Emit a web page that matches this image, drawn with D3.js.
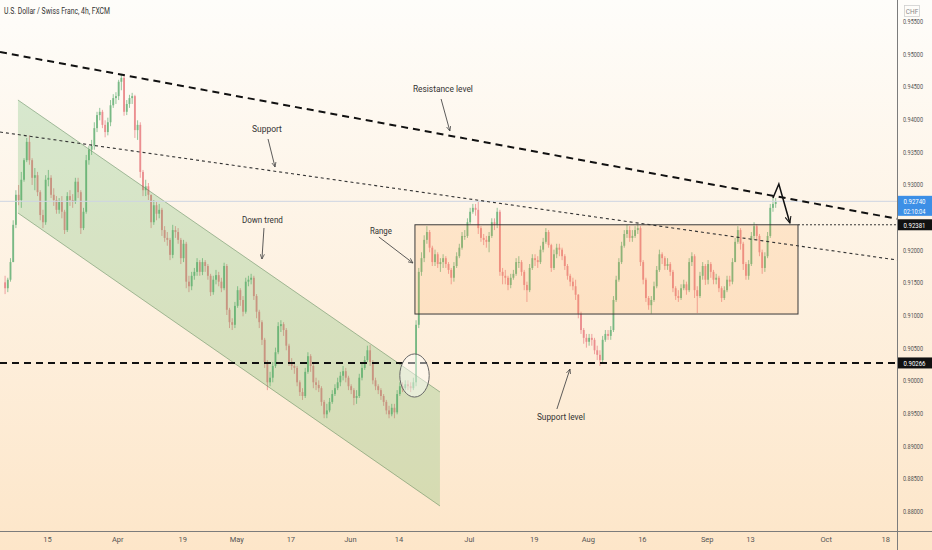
<!DOCTYPE html>
<html lang="en">
<head>
  <meta charset="UTF-8">
  <title>U.S. Dollar / Swiss Franc, 4h, FXCM</title>
  <script src="https://d3js.org/d3.v7.min.js"></script>
  <style>
    body { margin: 0; }
    svg { display: block; font-family: Roboto, "Liberation Sans", sans-serif; }
  </style>
</head>
<body>
  <svg width="932" height="550"></svg>

  <script>
    // price bars (two per trading day)
    const firstBar = "2021-03-03";
    const firstOpen = 0.9150;
    const closes = [
      0.9141,0.9154,0.9181,0.9238,0.9284,0.9276,0.9307,0.9337,0.9365,0.9337,
      0.9310,0.9314,0.9288,0.9253,0.9242,0.9307,0.9310,0.9284,0.9276,0.9261,
      0.9273,0.9258,0.9230,0.9282,0.9276,0.9273,0.9304,0.9288,0.9233,0.9258,
      0.9337,0.9353,0.9359,0.9386,0.9406,0.9411,0.9391,0.9380,0.9395,0.9421,
      0.9432,0.9435,0.9457,0.9463,0.9411,0.9423,0.9432,0.9435,0.9383,0.9391,
      0.9319,0.9291,0.9297,0.9284,0.9242,0.9268,0.9255,0.9261,0.9230,0.9218,
      0.9215,0.9192,0.9230,0.9227,0.9215,0.9187,0.9209,0.9151,0.9144,0.9160,
      0.9166,0.9181,0.9166,0.9181,0.9175,0.9160,0.9135,0.9154,0.9161,0.9151,
      0.9141,0.9175,0.9108,0.9089,0.9085,0.9114,0.9138,0.9123,0.9105,0.9151,
      0.9154,0.9157,0.9129,0.9105,0.9089,0.9062,0.9028,0.8997,0.9004,0.9022,
      0.9043,0.9083,0.9086,0.9077,0.9053,0.9028,0.9022,0.9019,0.8997,0.8982,
      0.8976,0.9013,0.9037,0.9022,0.8997,0.8993,0.8988,0.8967,0.8948,0.8954,
      0.8967,0.8979,0.8988,0.8997,0.9007,0.9014,0.9004,0.8991,0.8985,0.8973,
      0.8976,0.9004,0.9019,0.9031,0.9046,0.9028,0.9000,0.8991,0.8985,0.8976,
      0.8967,0.8954,0.8948,0.8958,0.8951,0.8979,0.8991,0.8988,0.8994,0.8991,
      0.8988,0.8997,0.9085,0.9166,0.9187,0.9215,0.9227,0.9203,0.9181,0.9193,
      0.9178,0.9181,0.9187,0.9178,0.9169,0.9157,0.9175,0.9190,0.9203,0.9221,
      0.9221,0.9242,0.9258,0.9264,0.9261,0.9233,0.9218,0.9215,0.9212,0.9221,
      0.9242,0.9238,0.9258,0.9166,0.9160,0.9157,0.9146,0.9157,0.9163,0.9181,
      0.9181,0.9166,0.9146,0.9138,0.9172,0.9187,0.9184,0.9181,0.9200,0.9212,
      0.9227,0.9207,0.9172,0.9193,0.9203,0.9200,0.9190,0.9175,0.9160,0.9151,
      0.9144,0.9131,0.9102,0.9077,0.9065,0.9059,0.9065,0.9062,0.9046,0.9039,
      0.9031,0.9062,0.9071,0.9068,0.9077,0.9123,0.9154,0.9181,0.9206,0.9224,
      0.9230,0.9218,0.9221,0.9230,0.9233,0.9181,0.9154,0.9126,0.9115,0.9123,
      0.9144,0.9169,0.9193,0.9187,0.9175,0.9178,0.9166,0.9141,0.9129,0.9126,
      0.9141,0.9147,0.9138,0.9181,0.9190,0.9138,0.9129,0.9160,0.9175,0.9154,
      0.9178,0.9166,0.9154,0.9157,0.9141,0.9126,0.9138,0.9154,0.9151,0.9181,
      0.9212,0.9230,0.9209,0.9178,0.9160,0.9178,0.9221,0.9236,0.9221,0.9196,
      0.9172,0.9190,0.9221,0.9264,0.9270,0.9274
    ];
    const highs = [
      0.9160,0.9157,0.9187,0.9245,0.9291,0.9299,0.9319,0.9340,0.9371,0.9375,
      0.9340,0.9325,0.9319,0.9291,0.9261,0.9314,0.9322,0.9314,0.9294,0.9282,
      0.9279,0.9282,0.9261,0.9288,0.9291,0.9285,0.9310,0.9310,0.9291,0.9264,
      0.9345,0.9359,0.9368,0.9395,0.9411,0.9417,0.9414,0.9398,0.9402,0.9429,
      0.9438,0.9441,0.9460,0.9469,0.9466,0.9429,0.9437,0.9440,0.9437,0.9398,
      0.9395,0.9322,0.9307,0.9302,0.9284,0.9276,0.9273,0.9270,0.9264,0.9236,
      0.9227,0.9218,0.9238,0.9236,0.9233,0.9218,0.9215,0.9212,0.9160,0.9166,
      0.9172,0.9187,0.9184,0.9187,0.9184,0.9178,0.9163,0.9160,0.9169,0.9166,
      0.9157,0.9180,0.9178,0.9111,0.9095,0.9120,0.9144,0.9141,0.9129,0.9157,
      0.9160,0.9163,0.9160,0.9132,0.9108,0.9092,0.9065,0.9031,0.9013,0.9028,
      0.9050,0.9089,0.9092,0.9089,0.9080,0.9056,0.9034,0.9028,0.9022,0.9000,
      0.8988,0.9019,0.9043,0.9040,0.9025,0.9004,0.9000,0.8991,0.8970,0.8964,
      0.8973,0.8985,0.8994,0.9004,0.9013,0.9022,0.9019,0.9007,0.8994,0.8988,
      0.8985,0.9010,0.9025,0.9037,0.9053,0.9054,0.9031,0.9004,0.8994,0.8988,
      0.8979,0.8970,0.8961,0.8964,0.8964,0.8985,0.8997,0.8997,0.9000,0.9000,
      0.8997,0.9004,0.9092,0.9172,0.9196,0.9222,0.9236,0.9230,0.9206,0.9200,
      0.9196,0.9187,0.9193,0.9190,0.9181,0.9172,0.9181,0.9196,0.9209,0.9227,
      0.9230,0.9248,0.9264,0.9270,0.9270,0.9274,0.9236,0.9224,0.9221,0.9227,
      0.9248,0.9248,0.9264,0.9261,0.9172,0.9169,0.9160,0.9163,0.9169,0.9187,
      0.9190,0.9184,0.9169,0.9151,0.9178,0.9193,0.9193,0.9190,0.9206,0.9218,
      0.9233,0.9230,0.9209,0.9200,0.9209,0.9209,0.9203,0.9193,0.9178,0.9163,
      0.9157,0.9154,0.9132,0.9105,0.9080,0.9071,0.9071,0.9071,0.9065,0.9053,
      0.9046,0.9068,0.9077,0.9077,0.9083,0.9129,0.9160,0.9187,0.9212,0.9230,
      0.9238,0.9236,0.9230,0.9236,0.9239,0.9236,0.9184,0.9157,0.9129,0.9129,
      0.9151,0.9175,0.9200,0.9196,0.9190,0.9187,0.9181,0.9169,0.9144,0.9138,
      0.9147,0.9154,0.9151,0.9187,0.9196,0.9193,0.9144,0.9166,0.9181,0.9178,
      0.9184,0.9181,0.9169,0.9163,0.9160,0.9144,0.9144,0.9160,0.9160,0.9187,
      0.9218,0.9236,0.9233,0.9212,0.9181,0.9184,0.9227,0.9242,0.9239,0.9224,
      0.9200,0.9196,0.9227,0.9270,0.9281,0.9279
    ];
    const lows = [
      0.9132,0.9135,0.9151,0.9181,0.9233,0.9268,0.9264,0.9304,0.9334,0.9330,
      0.9299,0.9291,0.9282,0.9245,0.9233,0.9238,0.9297,0.9279,0.9267,0.9255,
      0.9255,0.9248,0.9224,0.9227,0.9267,0.9264,0.9270,0.9279,0.9224,0.9230,
      0.9255,0.9330,0.9345,0.9353,0.9380,0.9398,0.9386,0.9372,0.9375,0.9389,
      0.9417,0.9423,0.9429,0.9444,0.9405,0.9406,0.9417,0.9423,0.9371,0.9368,
      0.9310,0.9282,0.9282,0.9276,0.9233,0.9238,0.9245,0.9248,0.9221,0.9212,
      0.9206,0.9184,0.9187,0.9218,0.9209,0.9178,0.9181,0.9141,0.9135,0.9138,
      0.9154,0.9160,0.9160,0.9161,0.9166,0.9154,0.9129,0.9131,0.9147,0.9144,
      0.9135,0.9138,0.9100,0.9080,0.9077,0.9080,0.9111,0.9114,0.9098,0.9102,
      0.9144,0.9147,0.9123,0.9095,0.9080,0.9054,0.9019,0.8985,0.8991,0.8997,
      0.9019,0.9040,0.9074,0.9068,0.9046,0.9022,0.9016,0.9010,0.8991,0.8976,
      0.8970,0.8973,0.9010,0.9013,0.8988,0.8985,0.8982,0.8961,0.8942,0.8942,
      0.8951,0.8964,0.8976,0.8985,0.8991,0.9000,0.8997,0.8985,0.8979,0.8962,
      0.8964,0.8973,0.9000,0.9016,0.9028,0.9022,0.8994,0.8985,0.8979,0.8970,
      0.8961,0.8948,0.8942,0.8945,0.8942,0.8948,0.8976,0.8982,0.8985,0.8985,
      0.8982,0.8985,0.8991,0.9080,0.9160,0.9181,0.9209,0.9196,0.9175,0.9175,
      0.9172,0.9166,0.9172,0.9172,0.9163,0.9147,0.9151,0.9172,0.9187,0.9200,
      0.9215,0.9218,0.9239,0.9255,0.9252,0.9224,0.9212,0.9207,0.9203,0.9196,
      0.9218,0.9230,0.9233,0.9160,0.9147,0.9147,0.9138,0.9141,0.9154,0.9160,
      0.9172,0.9160,0.9138,0.9120,0.9135,0.9169,0.9175,0.9172,0.9178,0.9196,
      0.9209,0.9203,0.9166,0.9169,0.9187,0.9190,0.9184,0.9169,0.9154,0.9144,
      0.9138,0.9123,0.9095,0.9071,0.9056,0.9050,0.9053,0.9053,0.9040,0.9031,
      0.9022,0.9025,0.9059,0.9062,0.9062,0.9074,0.9120,0.9151,0.9178,0.9203,
      0.9218,0.9212,0.9212,0.9218,0.9224,0.9175,0.9147,0.9120,0.9108,0.9102,
      0.9120,0.9141,0.9166,0.9178,0.9169,0.9169,0.9160,0.9135,0.9123,0.9120,
      0.9123,0.9138,0.9131,0.9135,0.9175,0.9126,0.9103,0.9126,0.9154,0.9146,
      0.9147,0.9157,0.9147,0.9147,0.9135,0.9120,0.9123,0.9135,0.9144,0.9147,
      0.9181,0.9209,0.9200,0.9169,0.9154,0.9154,0.9175,0.9215,0.9215,0.9190,
      0.9163,0.9166,0.9187,0.9218,0.9258,0.9264
    ];

    // axis ticks
    const priceTicks = [0.955,0.95,0.945,0.94,0.935,0.93,0.92,0.915,0.91,0.905,0.90,0.895,0.89,0.885,0.88];
    const timeTicks = ["2021-03-15","2021-04-01","2021-04-19","2021-05-03","2021-05-17","2021-06-01","2021-06-14",
                       "2021-07-01","2021-07-19","2021-08-02","2021-08-16","2021-09-01","2021-09-13","2021-10-01","2021-10-18"];
    const timeLabels = ["15","Apr","19","May","17","Jun","14","Jul","19","Aug","16","Sep","13","Oct","18"];

    // price levels shown on the scale
    const lastPrice = 0.92740;
    const countdown = "02:10:04";
    const supportPrice = 0.90266;
    const rangeTop = 0.92381;
    const rangeBottom = 0.91015;

    // drawings: [time, price]
    const resistancePts = [["2021-04-01", 0.94691], ["2021-09-17", 0.92829]];
    const supportPts = [["2021-03-15", 0.93698], ["2021-09-13", 0.92163]];
    const channelLeft = ["2021-03-05T15:00", 0.94291, 0.92561];
    const channelRight = ["2021-06-23T16:00", 0.89822, 0.88077];
    const rangeTimes = ["2021-06-17T01:00", "2021-09-23T21:00"];
    const circle = ["2021-06-16T23:00", 0.90074, 2.72, 0.0033];
    const zigzag = [["2021-09-17T06:00", 0.92791], ["2021-09-20T08:00", 0.93005], ["2021-09-22T09:00", 0.92408]];
    const notes = [
      { text: "Resistance level", at: ["2021-06-24T05:00", 0.94459], w: 60, from: ["2021-06-23T21:00", 0.94306], to: ["2021-06-25T12:00", 0.93816] },
      { text: "Support", at: ["2021-05-10T16:00", 0.93847], w: 30, from: ["2021-05-10T21:00", 0.93694], to: ["2021-05-12T04:00", 0.93265] },
      { text: "Down trend", at: ["2021-05-07T20:00", 0.92454], w: 41, from: ["2021-05-10T03:00", 0.92331], to: ["2021-05-07T18:00", 0.91857] },
      { text: "Range", at: ["2021-06-08T18:00", 0.92286], w: 22, from: ["2021-06-08T09:00", 0.92194], to: ["2021-06-16T16:00", 0.91796] },
      { text: "Support level", at: ["2021-07-26T01:00", 0.89439], w: 48, from: ["2021-07-23T07:00", 0.89561], to: ["2021-07-27T17:00", 0.90173] }
    ];

    // trading-day index (weekends skipped), day 0 = 2021-03-15
    const base = new Date("2021-03-15T00:00:00Z");
    function tIndex(s) {
      const d = new Date(s.length > 10 ? s + ":00Z" : s + "T00:00:00Z");
      const days = (d - base) / 864e5;
      const w = Math.floor(days / 7), r = days - w * 7;
      return w * 5 + Math.min(r, 5);
    }

    const svg = d3.select("svg");
    const width = 932, height = 550;
    const plotW = 897, plotH = 531;

    const x = d3.scaleLinear().domain([tIndex("2021-03-15"), tIndex("2021-09-13")]).range([47, 750]);
    const y = d3.scaleLinear().domain([0.88, 0.955]).range([511, 21]);

    const defs = svg.append("defs");
    const grad = defs.append("linearGradient").attr("id", "bg")
      .attr("x1", 0).attr("y1", 0).attr("x2", 0).attr("y2", 1);
    grad.append("stop").attr("offset", "0%").attr("stop-color", "#fefdfa");
    grad.append("stop").attr("offset", "100%").attr("stop-color", "#fde6c9");
    defs.append("clipPath").attr("id", "plot")
      .append("rect").attr("width", plotW).attr("height", plotH);
    // open arrow heads
    [["ah", "#4a4a4a", 6], ["ahBig", "#111", 5]].forEach(([id, col, s]) => {
      defs.append("marker").attr("id", id).attr("viewBox", "0 0 10 10")
        .attr("refX", 9).attr("refY", 5).attr("markerWidth", s).attr("markerHeight", s)
        .attr("orient", "auto")
        .append("path").attr("d", "M0,1 L9,5 L0,9").attr("fill", "none")
        .attr("stroke", col).attr("stroke-width", 1.4);
    });

    svg.append("rect").attr("width", width).attr("height", height).attr("fill", "url(#bg)");

    const g = svg.append("g").attr("clip-path", "url(#plot)");
    const px = p => x(tIndex(p[0]));

    // candles
    const t0 = tIndex(firstBar);
    const bars = closes.map((c, i) => ({
      t: t0 + Math.floor(i / 2) + (i % 2) * 0.5 + 0.25,
      o: i ? closes[i - 1] : firstOpen, h: highs[i], l: lows[i], c: c
    }));
    const bw = (x(1) - x(0)) * 0.5 * 0.68;
    const up = "#6ab37a", down = "#ea8386";
    const candle = g.append("g").attr("opacity", 0.9).selectAll("g").data(bars).join("g")
      .attr("fill", d => d.c >= d.o ? up : down)
      .attr("stroke", d => d.c >= d.o ? up : down);
    candle.append("line")
      .attr("x1", d => x(d.t)).attr("x2", d => x(d.t))
      .attr("y1", d => y(d.h)).attr("y2", d => y(d.l))
      .attr("stroke-width", 0.8);
    candle.append("rect")
      .attr("stroke", "none")
      .attr("x", d => x(d.t) - bw / 2).attr("width", bw)
      .attr("y", d => y(Math.max(d.o, d.c)))
      .attr("height", d => Math.max(0.8, Math.abs(y(d.o) - y(d.c))));

    // down-trend channel
    const cl = tIndex(channelLeft[0]), cr = tIndex(channelRight[0]);
    g.append("path")
      .attr("d", d3.line()([[x(cl), y(channelLeft[1])], [x(cr), y(channelRight[1])],
                            [x(cr), y(channelRight[2])], [x(cl), y(channelLeft[2])]]) + "Z")
      .attr("fill", "rgba(76,175,80,0.22)");
    [1, 2].forEach(a => {
      g.append("line")
        .attr("x1", x(cl)).attr("y1", y(channelLeft[a]))
        .attr("x2", x(cr)).attr("y2", y(channelRight[a]))
        .attr("stroke", "rgba(70,120,70,0.45)").attr("stroke-width", 1);
    });

    // range box
    const rx0 = x(tIndex(rangeTimes[0])), rx1 = x(tIndex(rangeTimes[1]));
    g.append("rect")
      .attr("x", rx0).attr("y", y(rangeTop))
      .attr("width", rx1 - rx0).attr("height", y(rangeBottom) - y(rangeTop))
      .attr("fill", "rgba(255,152,60,0.17)").attr("stroke", "#3a3a3a").attr("stroke-width", 1);

    // lines through two anchor points, extended over the plot
    function extended(pts) {
      const a = [tIndex(pts[0][0]), pts[0][1]], b = [tIndex(pts[1][0]), pts[1][1]];
      const k = (b[1] - a[1]) / (b[0] - a[0]);
      const ta = x.invert(0), tb = x.invert(plotW);
      return [[0, y(a[1] + k * (ta - a[0]))], [plotW, y(a[1] + k * (tb - a[0]))]];
    }

    // last price line
    g.append("line").attr("x1", 0).attr("x2", plotW)
      .attr("y1", y(lastPrice)).attr("y2", y(lastPrice))
      .attr("stroke", "#cdd5e2").attr("stroke-width", 1);

    g.append("path").attr("d", d3.line()(extended(supportPts)))
      .attr("stroke", "#333").attr("stroke-width", 1.1).attr("stroke-dasharray", "3,3").attr("fill", "none");
    g.append("path").attr("d", d3.line()(extended(resistancePts)))
      .attr("stroke", "#111").attr("stroke-width", 2).attr("stroke-dasharray", "7,5").attr("fill", "none");
    g.append("line").attr("x1", 0).attr("x2", plotW)
      .attr("y1", y(supportPrice)).attr("y2", y(supportPrice))
      .attr("stroke", "#111").attr("stroke-width", 2).attr("stroke-dasharray", "7,5");
    g.append("line").attr("x1", rx1).attr("x2", plotW)
      .attr("y1", y(rangeTop)).attr("y2", y(rangeTop))
      .attr("stroke", "#333").attr("stroke-width", 1).attr("stroke-dasharray", "2,2");

    // breakout circle
    const ct = tIndex(circle[0]);
    g.append("ellipse")
      .attr("cx", x(ct)).attr("cy", y(circle[1]))
      .attr("rx", x(ct + circle[2]) - x(ct)).attr("ry", y(circle[1] - circle[3]) - y(circle[1]))
      .attr("fill", "rgba(255,255,255,0.45)").attr("stroke", "#666").attr("stroke-width", 1);

    // projected move
    g.append("path")
      .attr("d", d3.line()(zigzag.map(p => [px(p), y(p[1])])))
      .attr("fill", "none").attr("stroke", "#111").attr("stroke-width", 1.5)
      .attr("marker-end", "url(#ahBig)");

    // text notes with arrows
    notes.forEach(n => {
      g.append("line")
        .attr("x1", px(n.from)).attr("y1", y(n.from[1]))
        .attr("x2", px(n.to)).attr("y2", y(n.to[1]))
        .attr("stroke", "#4a4a4a").attr("stroke-width", 0.9)
        .attr("marker-end", "url(#ah)");
      g.append("text")
        .attr("x", px(n.at)).attr("y", y(n.at[1]) + 3.2)
        .attr("text-anchor", "middle")
        .attr("font-size", 9.5).attr("fill", "#333")
        .attr("textLength", n.w).attr("lengthAdjust", "spacingAndGlyphs")
        .text(n.text);
    });

    // axes
    const yAxis = svg.append("g").attr("transform", `translate(${plotW},0)`)
      .call(d3.axisRight(y).tickValues(priceTicks).tickFormat(d3.format(".5f")).tickSize(0).tickPadding(6));
    const xAxis = svg.append("g").attr("transform", `translate(0,${plotH})`)
      .call(d3.axisBottom(x).tickValues(timeTicks.map(tIndex)).tickFormat((d, i) => timeLabels[i]).tickSize(0).tickPadding(6));
    [yAxis, xAxis].forEach(a => {
      a.select(".domain").remove();
      a.selectAll("text").attr("font-size", 7.5).attr("fill", "#555").attr("font-family", "Roboto, sans-serif");
    });
    yAxis.selectAll("text").attr("textLength", 20).attr("lengthAdjust", "spacingAndGlyphs");

    svg.append("line").attr("x1", plotW + 0.5).attr("x2", plotW + 0.5).attr("y1", 0).attr("y2", height)
      .attr("stroke", "#7c7c7c").attr("stroke-width", 1);
    svg.append("line").attr("x1", 0).attr("x2", width).attr("y1", plotH + 0.5).attr("y2", plotH + 0.5)
      .attr("stroke", "#7c7c7c").attr("stroke-width", 1);

    // price labels on the scale
    function priceTag(p, fill, lines, h) {
      const top = y(p) - 5.5;
      svg.append("rect").attr("x", plotW + 1).attr("y", top).attr("width", width - plotW - 1).attr("height", h)
        .attr("fill", fill);
      lines.forEach((s, i) => {
        svg.append("text").attr("x", plotW + 17.5).attr("y", top + 8.3 + i * 9.5)
          .attr("text-anchor", "middle").attr("font-size", 7.5).attr("fill", "#fff")
          .attr("textLength", 22).attr("lengthAdjust", "spacingAndGlyphs")
          .text(s);
      });
    }
    priceTag(lastPrice, "#3c8fe6", [d3.format(".5f")(lastPrice), countdown], 20);
    priceTag(rangeTop, "#111", [d3.format(".5f")(rangeTop)], 11);
    priceTag(supportPrice, "#111", [d3.format(".5f")(supportPrice)], 11);

    // currency box
    svg.append("rect").attr("x", 904.5).attr("y", 5.5).attr("width", 15).attr("height", 11)
      .attr("fill", "none").attr("stroke", "#cfcfcf").attr("stroke-width", 0.8);
    svg.append("text").attr("x", 912).attr("y", 13.5).attr("text-anchor", "middle")
      .attr("font-size", 6.5).attr("fill", "#888").text("CHF");

    // title
    svg.append("text").attr("x", 4).attr("y", 14)
      .attr("font-size", 9).attr("fill", "#333")
      .attr("textLength", 106).attr("lengthAdjust", "spacingAndGlyphs")
      .text("U.S. Dollar / Swiss Franc, 4h, FXCM");
  </script>
</body>
</html>
